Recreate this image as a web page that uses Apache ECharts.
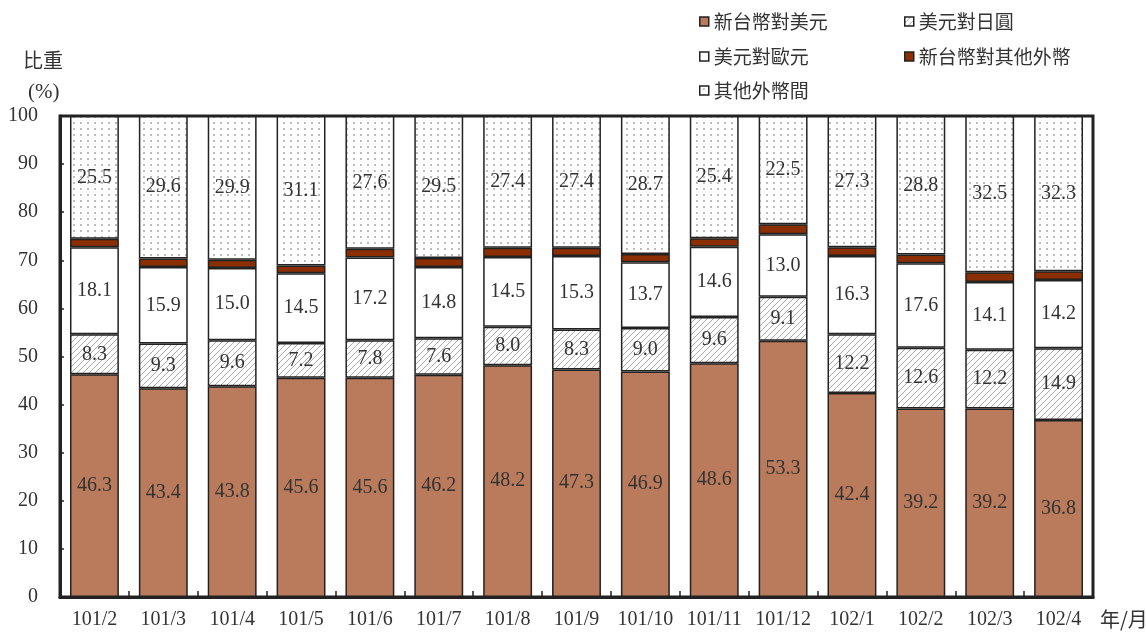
<!DOCTYPE html>
<html>
<head>
<meta charset="utf-8">
<script src="https://cdn.jsdelivr.net/npm/echarts@6/dist/echarts.min.js"></script>
<style>
  html, body { margin: 0; padding: 0; background: #fff; }
  #chart { width: 1146px; height: 632px; }
</style>
</head>
<body>
<div id="chart"></div>
<script>
// Monthly shares (%) of foreign-exchange trading by currency pair
const months = ['101/2', '101/3', '101/4', '101/5', '101/6', '101/7', '101/8', '101/9',
                '101/10', '101/11', '101/12', '102/1', '102/2', '102/3', '102/4'];
const ntdUsd     = [46.3, 43.4, 43.8, 45.6, 45.6, 46.2, 48.2, 47.3, 46.9, 48.6, 53.3, 42.4, 39.2, 39.2, 36.8];
const usdJpy     = [8.3, 9.3, 9.6, 7.2, 7.8, 7.6, 8.0, 8.3, 9.0, 9.6, 9.1, 12.2, 12.6, 12.2, 14.9];
const usdEur     = [18.1, 15.9, 15.0, 14.5, 17.2, 14.8, 14.5, 15.3, 13.7, 14.6, 13.0, 16.3, 17.6, 14.1, 14.2];
const ntdOther   = [1.8, 1.8, 1.7, 1.6, 1.8, 1.9, 1.9, 1.7, 1.7, 1.8, 2.1, 1.8, 1.8, 2.0, 1.8];
const crossOther = [25.5, 29.6, 29.9, 31.1, 27.6, 29.5, 27.4, 27.4, 28.7, 25.4, 22.5, 27.3, 28.8, 32.5, 32.3];
const seriesNames = ['新台幣對美元', '美元對日圓', '美元對歐元', '新台幣對其他外幣', '其他外幣間'];

const SERIF = '"Liberation Serif", "Noto Sans CJK TC", serif';
const CJK = '"Noto Sans CJK TC", "Liberation Serif", sans-serif';
const INK = '#222';
const TEXT = '#333';

// Fill patterns: diagonal hatching and a dot grid
function hatchPattern() {
  const c = document.createElement('canvas');
  c.width = 6; c.height = 6;
  const g = c.getContext('2d');
  g.fillStyle = '#fff'; g.fillRect(0, 0, 6, 6);
  g.strokeStyle = '#ababab'; g.lineWidth = 1;
  g.beginPath();
  g.moveTo(0, 6); g.lineTo(6, 0);
  g.moveTo(-1, 1); g.lineTo(1, -1);
  g.moveTo(5, 7); g.lineTo(7, 5);
  g.stroke();
  return { image: c, repeat: 'repeat' };
}
function dotPattern() {
  const c = document.createElement('canvas');
  c.width = 7; c.height = 6;
  const g = c.getContext('2d');
  g.fillStyle = '#fff'; g.fillRect(0, 0, 7, 6);
  g.fillStyle = '#bdbdbd'; g.fillRect(3, 2, 2, 2);
  return { image: c, repeat: 'repeat' };
}

const fills = ['#B97B5B', hatchPattern(), '#ffffff', '#8B2E02', dotPattern()];
const values = [ntdUsd, usdJpy, usdEur, ntdOther, crossOther];
const showLabel = [true, true, true, false, true];

const chart = echarts.init(document.getElementById('chart'), null, { renderer: 'canvas' });

const series = seriesNames.map((name, i) => ({
  name: name,
  type: 'bar',
  stack: 'share',
  barWidth: '71%',
  data: values[i],
  itemStyle: { color: fills[i], borderColor: INK, borderWidth: 1.5 },
  label: {
    show: showLabel[i],
    position: 'inside',
    formatter: p => p.value.toFixed(1),
    fontFamily: SERIF,
    fontSize: 20,
    color: TEXT
  },
  emphasis: { disabled: true }
}));

const legendPos = [[699, 12], [904, 12], [699, 47], [904, 47], [699, 81]];
const legend = seriesNames.map((name, i) => ({
  data: [name],
  left: legendPos[i][0],
  top: legendPos[i][1],
  padding: 0,
  itemWidth: 9,
  itemHeight: 9,
  icon: 'rect',
  selectedMode: false,
  itemStyle: { borderColor: INK, borderWidth: 1.5 },
  textStyle: { fontFamily: CJK, fontSize: 19, color: TEXT }
}));

chart.setOption({
  animation: false,
  backgroundColor: '#fff',
  legend: legend,
  grid: {
    left: 60, right: 53, top: 116, bottom: 35,
    show: true, borderColor: INK, borderWidth: 3, backgroundColor: 'transparent'
  },
  xAxis: {
    type: 'category',
    data: months,
    axisLine: { lineStyle: { color: INK, width: 3 } },
    axisTick: { show: true, inside: true, length: 6, alignWithLabel: false, lineStyle: { color: INK, width: 1.5 } },
    axisLabel: { fontFamily: SERIF, fontSize: 20, color: TEXT, margin: 13, interval: 0 }
  },
  yAxis: {
    type: 'value',
    min: 0, max: 100, interval: 10,
    axisLine: { show: true, lineStyle: { color: INK, width: 3 } },
    axisTick: { show: true, inside: true, length: 4, lineStyle: { color: INK, width: 1.5 } },
    axisLabel: { fontFamily: SERIF, fontSize: 20, color: TEXT, margin: 22 },
    splitLine: { show: false }
  },
  graphic: [
    { type: 'text', left: 23, top: 50, style: { text: '比重', font: '20px ' + CJK, fill: TEXT } },
    { type: 'text', left: 28, top: 82, style: { text: '(%)', font: '21px ' + SERIF, fill: TEXT } },
    { type: 'text', left: 1100, top: 609, style: { text: '年/月', font: '20px ' + CJK, fill: TEXT } }
  ],
  series: series
});
</script>
</body>
</html>
